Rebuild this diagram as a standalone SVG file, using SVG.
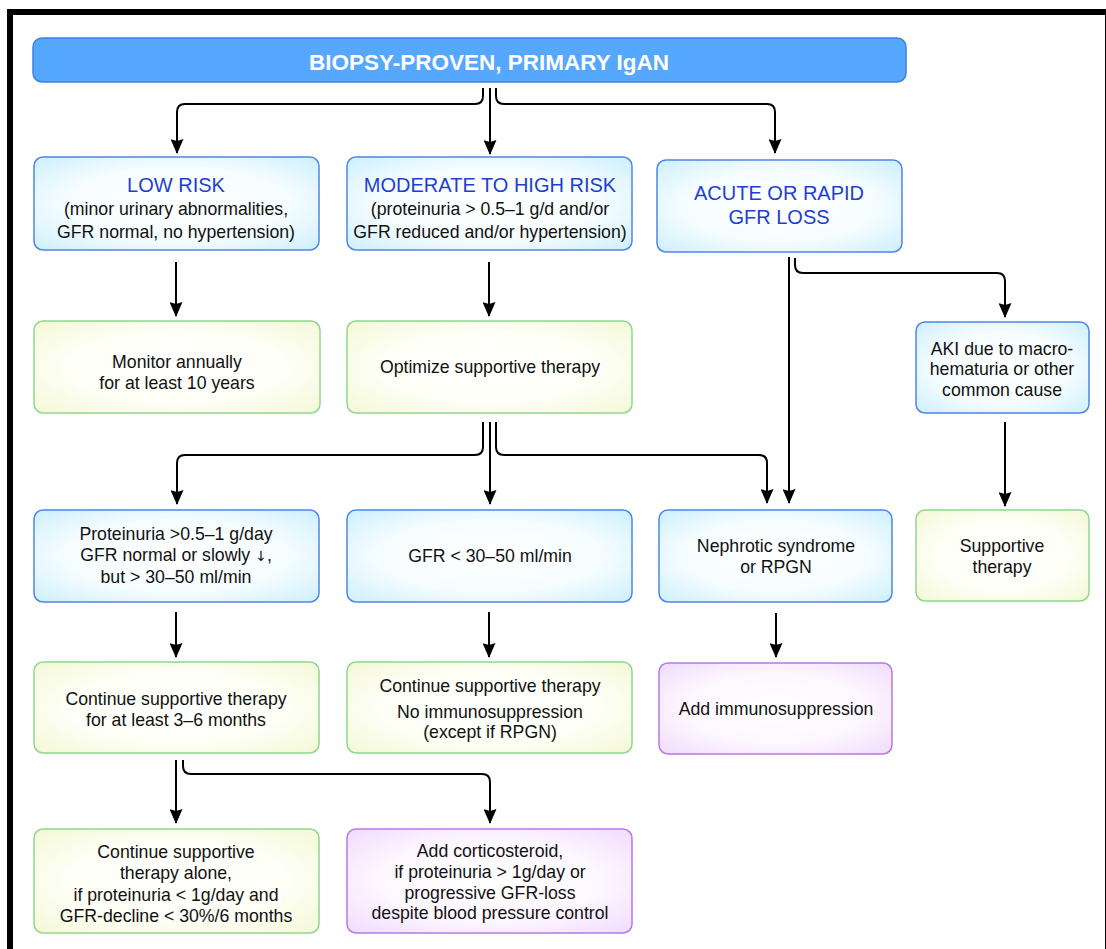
<svg xmlns="http://www.w3.org/2000/svg" width="1106" height="949" viewBox="0 0 1106 949">
<defs>
<radialGradient id="gBlue" cx="50%" cy="50%" r="70%">
<stop offset="0" stop-color="#ffffff"/><stop offset="0.55" stop-color="#f6fdff"/><stop offset="1" stop-color="#cdeffe"/>
</radialGradient>
<radialGradient id="gGreen" cx="50%" cy="50%" r="70%">
<stop offset="0" stop-color="#ffffff"/><stop offset="0.55" stop-color="#fefff6"/><stop offset="1" stop-color="#f4f8d6"/>
</radialGradient>
<radialGradient id="gPurple" cx="50%" cy="50%" r="70%">
<stop offset="0" stop-color="#ffffff"/><stop offset="0.55" stop-color="#fdf7ff"/><stop offset="1" stop-color="#f1dbff"/>
</radialGradient>
<marker id="arr" viewBox="0 -6.5 15 13" markerWidth="15" markerHeight="13" refX="14" refY="0" orient="auto" markerUnits="userSpaceOnUse">
<path d="M0,-6.5 L15,0 L0,6.5 L2,0 z" fill="#000"/>
</marker>
</defs>
<style>
.b{fill:url(#gBlue);stroke:#4d86e8;stroke-width:1.5}
.g{fill:url(#gGreen);stroke:#8ed88e;stroke-width:1.5}
.p{fill:url(#gPurple);stroke:#b47ae6;stroke-width:1.5}
text{font-family:"Liberation Sans",Arial,sans-serif;text-anchor:middle;fill:#111;font-size:17.7px}
.h{fill:#1e3fd0;font-size:20px}
.ar{font-family:"DejaVu Sans",sans-serif;font-size:14px;fill:#111}
.c{fill:none;stroke:#000;stroke-width:2;marker-end:url(#arr)}
</style>
<rect x="0" y="0" width="1106" height="949" fill="#fff"/>
<rect x="10" y="12" width="1098" height="960" fill="none" stroke="#000" stroke-width="6"/>

<g id="top">
<rect x="33" y="38" width="873" height="44" rx="9" fill="#56a8ff" stroke="#3f7fe0" stroke-width="1.5"/>
<text x="489" y="70" style="fill:#fff;font-weight:bold;font-size:22.5px">BIOPSY-PROVEN, PRIMARY IgAN</text>
</g>

<g id="low-risk">
<rect class="b" x="34" y="157" width="285" height="93" rx="9"/>
<text class="h" x="176" y="192">LOW RISK</text>
<text x="176" y="215">(minor urinary abnormalities,</text>
<text x="176" y="238">GFR normal, no hypertension)</text>
</g>
<g id="moderate-risk">
<rect class="b" x="347" y="157" width="285" height="93" rx="9"/>
<text class="h" x="490" y="192">MODERATE TO HIGH RISK</text>
<text x="490" y="215">(proteinuria &gt; 0.5–1 g/d and/or</text>
<text x="490" y="238">GFR reduced and/or hypertension)</text>
</g>
<g id="acute">
<rect class="b" x="657" y="160" width="245" height="92" rx="9"/>
<text class="h" x="779" y="200">ACUTE OR RAPID</text>
<text class="h" x="779" y="224">GFR LOSS</text>
</g>

<g id="monitor">
<rect class="g" x="34" y="321" width="286" height="92" rx="9"/>
<text x="177" y="368">Monitor annually</text>
<text x="177" y="389">for at least 10 years</text>
</g>
<g id="optimize">
<rect class="g" x="347" y="321" width="285" height="92" rx="9"/>
<text x="490" y="373">Optimize supportive therapy</text>
</g>
<g id="aki">
<rect class="b" x="916" y="322" width="173" height="91" rx="9"/>
<text x="1002" y="355">AKI due to macro-</text>
<text x="1002" y="375">hematuria or other</text>
<text x="1002" y="396">common cause</text>
</g>

<g id="proteinuria">
<rect class="b" x="34" y="510" width="285" height="92" rx="9"/>
<text x="176" y="540">Proteinuria &gt;0.5–1 g/day</text>
<text x="176" y="561">GFR normal or slowly <tspan class="ar">&#x2193;&#xFE0E;</tspan>,</text>
<text x="176" y="583">but &gt; 30–50 ml/min</text>
</g>
<g id="gfr-low">
<rect class="b" x="347" y="510" width="285" height="92" rx="9"/>
<text x="490" y="562">GFR &lt; 30–50 ml/min</text>
</g>
<g id="nephrotic">
<rect class="b" x="659" y="510" width="233" height="92" rx="9"/>
<text x="776" y="552">Nephrotic syndrome</text>
<text x="776" y="573">or RPGN</text>
</g>
<g id="supportive">
<rect class="g" x="916" y="510" width="173" height="91" rx="9"/>
<text x="1002" y="552">Supportive</text>
<text x="1002" y="573">therapy</text>
</g>

<g id="continue-3-6">
<rect class="g" x="34" y="662" width="285" height="91" rx="9"/>
<text x="176" y="705">Continue supportive therapy</text>
<text x="176" y="726">for at least 3–6 months</text>
</g>
<g id="continue-no-immuno">
<rect class="g" x="347" y="662" width="285" height="91" rx="9"/>
<text x="490" y="692">Continue supportive therapy</text>
<text x="490" y="718">No immunosuppression</text>
<text x="490" y="738">(except if RPGN)</text>
</g>
<g id="add-immuno">
<rect class="p" x="659" y="663" width="233" height="91" rx="9"/>
<text x="776" y="715">Add immunosuppression</text>
</g>

<g id="continue-alone">
<rect class="g" x="34" y="829" width="285" height="104" rx="9"/>
<text x="176" y="858">Continue supportive</text>
<text x="176" y="879">therapy alone,</text>
<text x="176" y="901">if proteinuria &lt; 1g/day and</text>
<text x="176" y="922">GFR-decline &lt; 30%/6 months</text>
</g>
<g id="corticosteroid">
<rect class="p" x="347" y="829" width="285" height="104" rx="9"/>
<text x="490" y="857">Add corticosteroid,</text>
<text x="490" y="878">if proteinuria &gt; 1g/day or</text>
<text x="490" y="899">progressive GFR-loss</text>
<text x="490" y="919">despite blood pressure control</text>
</g>

<g id="connectors">
<path class="c" d="M483,88 V96 Q483,104 475,104 H185 Q177,104 177,112 V153"/>
<path class="c" d="M490,88 V154"/>
<path class="c" d="M496,88 V96 Q496,104 504,104 H767 Q775,104 775,112 V153"/>
<path class="c" d="M176,262 V316"/>
<path class="c" d="M489,262 V316"/>
<path class="c" d="M789,257 V503"/>
<path class="c" d="M795,258 V265 Q795,273 803,273 H997 Q1005,273 1005,281 V317"/>
<path class="c" d="M483,422 V447 Q483,455 475,455 H185 Q177,455 177,463 V504"/>
<path class="c" d="M490,422 V504"/>
<path class="c" d="M496,422 V447 Q496,455 504,455 H759 Q767,455 767,463 V503"/>
<path class="c" d="M1005,422 V506"/>
<path class="c" d="M176,612 V657"/>
<path class="c" d="M489,612 V657"/>
<path class="c" d="M776,613 V657"/>
<path class="c" d="M176,760 V823"/>
<path class="c" d="M183,760 V766 Q183,774 191,774 H482 Q490,774 490,782 V823"/>
</g>
</svg>
